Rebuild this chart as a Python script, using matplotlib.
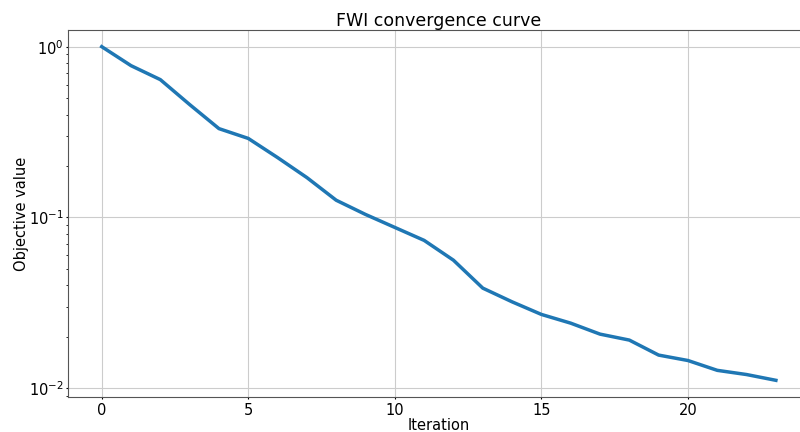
import matplotlib
matplotlib.use("Agg")
import matplotlib.pyplot as plt

# objective value per FWI iteration (normalised)
iterations = list(range(24))
objective = [1.0, 0.774, 0.641, 0.458, 0.331, 0.29, 0.224, 0.171, 0.126,
             0.104, 0.0873, 0.0733, 0.0561, 0.0385, 0.032, 0.027, 0.024,
             0.0207, 0.0191, 0.0156, 0.0145, 0.0127, 0.0120, 0.0111]

fig = plt.figure(figsize=(8, 4.32), dpi=100)
ax = fig.add_axes([0.085, 0.081, 0.927, 0.8496])

ax.semilogy(iterations, objective, color="#1f77b4", linewidth=2.5)
ax.set_title("FWI convergence curve", fontsize=12.5, pad=3)
ax.set_xlabel("Iteration", fontsize=10.5, labelpad=0.5)
ax.set_ylabel("Objective value", fontsize=10.5, labelpad=0)
ax.tick_params(labelsize=10.5, length=1.5, pad=2.5)
ax.tick_params(axis="y", pad=1.5)
ax.tick_params(which="minor", length=1.2)
ax.grid(True, color="#cccccc", linewidth=0.8)
for sp in ax.spines.values():
    sp.set_color("#555555")

fig.savefig("out.png", dpi=100)
